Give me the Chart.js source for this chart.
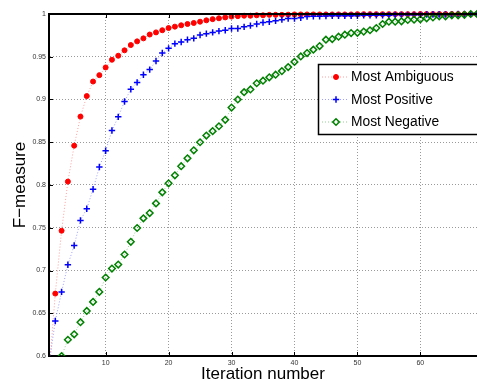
<!DOCTYPE html>
<html>
<head>
<meta charset="utf-8">
<script src="https://cdn.jsdelivr.net/npm/chart.js@4/dist/chart.umd.min.js"></script>
<style>
html,body{margin:0;padding:0;background:#fff;}
#wrap{width:477px;height:381px;position:relative;}
</style>
</head>
<body>
<div id="wrap"><canvas id="c" width="477" height="381"></canvas></div>
<script>
const iterations = [];
for (let i = 1; i <= 69; i++) iterations.push(i);

const seriesNames = ["Most Ambiguous", "Most Positive", "Most Negative"];

const mostAmbiguous = [
  0.58, 0.673, 0.7465, 0.804, 0.846, 0.880, 0.904, 0.921, 0.9285, 0.9375,
  0.9465, 0.9512, 0.9575, 0.9637, 0.968, 0.9715, 0.976, 0.9785, 0.981, 0.9836,
  0.9852, 0.9868, 0.9883, 0.9895, 0.991, 0.9926, 0.994, 0.995, 0.996, 0.997,
  0.9975, 0.998, 0.998, 0.9985, 0.9985, 0.999, 0.999, 0.999, 0.9992, 0.9995,
  0.9995, 0.9995, 0.9995, 0.9995, 0.9995, 0.9995, 0.9995, 0.9995, 0.9995, 0.9998,
  0.9998, 0.9998, 0.9998, 0.9998, 0.9998, 0.9998, 0.9998, 0.9998, 0.9998, 1.0,
  1.0, 1.0, 1.0, 1.0, 1.0, 1.0, 1.0, 1.0, 1.0
];

const mostPositive = [
  0.59, 0.641, 0.675, 0.7067, 0.7293, 0.7586, 0.7723, 0.795, 0.821, 0.840,
  0.8637, 0.8797, 0.8977, 0.912, 0.920, 0.929, 0.935, 0.945, 0.9543, 0.9598,
  0.9653, 0.9672, 0.970, 0.9715, 0.9754, 0.977, 0.9785, 0.980, 0.981, 0.983,
  0.983, 0.985, 0.9864, 0.9883, 0.990, 0.991, 0.992, 0.9934, 0.9946, 0.9946,
  0.9957, 0.997, 0.9973, 0.9973, 0.9977, 0.998, 0.998, 0.998, 0.998, 0.998,
  0.9985, 0.9985, 0.9985, 0.9985, 0.9985, 0.999, 0.999, 0.999, 0.999, 0.999,
  0.9995, 0.9995, 0.9995, 0.9995, 0.9995, 1.0, 1.0, 1.0, 1.0
];

const mostNegative = [
  0.55, 0.575, 0.600, 0.619, 0.6254, 0.6395, 0.6527, 0.6633, 0.675, 0.6918,
  0.7023, 0.707, 0.7187, 0.7336, 0.7497, 0.761, 0.7672, 0.7785, 0.7914, 0.802,
  0.8113, 0.822, 0.8312, 0.8406, 0.850, 0.8578, 0.863, 0.8687, 0.8762, 0.8906,
  0.900, 0.9086, 0.9118, 0.919, 0.922, 0.926, 0.929, 0.9332, 0.9379, 0.944,
  0.9504, 0.9543, 0.9583, 0.9625, 0.970, 0.9707, 0.9735, 0.9758, 0.9777, 0.978,
  0.9794, 0.981, 0.9836, 0.9883, 0.991, 0.991, 0.9914, 0.993, 0.9934, 0.9938,
  0.995, 0.996, 0.9973, 0.9973, 0.9985, 0.9985, 0.999, 1.0, 1.0
];

const xTickValues = [10, 20, 30, 40, 50, 60];
const yTickValues = [0.6, 0.65, 0.7, 0.75, 0.8, 0.85, 0.9, 0.95, 1];

const FONT = "'Liberation Sans', Arial, Helvetica, sans-serif";

function pts(vals) { return iterations.map((x, i) => ({x: x, y: vals[i]})); }

const styles = [
  {line: 'rgba(255,80,80,0.55)', point: 'circle', radius: 2.5, bg: '#ff0000', border: '#ff0000', bw: 1, order: 2},
  {line: 'rgba(80,80,255,0.55)', point: 'cross', radius: 3.2, bg: '#0000ff', border: '#0000ff', bw: 1.5, order: 1},
  {line: 'rgba(60,170,60,0.55)', point: 'rectRot', radius: 3.3, bg: 'rgba(0,0,0,0)', border: '#008000', bw: 1.5, order: 0}
];
const seriesValues = [mostAmbiguous, mostPositive, mostNegative];

const datasets = seriesNames.map((name, k) => ({
  label: name,
  data: pts(seriesValues[k]),
  borderColor: styles[k].line,
  borderWidth: 1,
  borderDash: [1, 2],
  pointStyle: styles[k].point,
  pointRadius: styles[k].radius,
  pointBackgroundColor: styles[k].bg,
  pointBorderColor: styles[k].border,
  pointBorderWidth: styles[k].bw,
  pointHoverRadius: styles[k].radius,
  tension: 0,
  order: styles[k].order,
  clip: {left: 6, top: 6, right: 6, bottom: 0}
}));

const framePlugin = {
  id: 'frame',
  afterDraw(chart) {
    const {ctx, chartArea: a, scales} = chart;
    ctx.save();
    // top border
    ctx.strokeStyle = '#000';
    ctx.lineWidth = 2;
    ctx.beginPath();
    ctx.moveTo(a.left - 1, a.top);
    ctx.lineTo(a.right + 1, a.top);
    ctx.stroke();
    // inward tick marks
    ctx.lineWidth = 1;
    xTickValues.forEach(v => {
      const x = Math.round(scales.x.getPixelForValue(v)) + 0.5;
      ctx.beginPath();
      ctx.moveTo(x, a.bottom); ctx.lineTo(x, a.bottom - 4);
      ctx.moveTo(x, a.top); ctx.lineTo(x, a.top + 4);
      ctx.stroke();
    });
    yTickValues.forEach(v => {
      const y = Math.round(scales.y.getPixelForValue(v)) + 0.5;
      ctx.beginPath();
      ctx.moveTo(a.left, y); ctx.lineTo(a.left + 4, y);
      ctx.stroke();
    });
    // legend
    const bx = 318.5, by = 64.5, bw = 170, bh = 70;
    ctx.fillStyle = '#fff';
    ctx.fillRect(bx, by, bw, bh);
    ctx.strokeStyle = '#000';
    ctx.lineWidth = 1.5;
    ctx.strokeRect(bx, by, bw, bh);
    const rows = [77, 99.5, 122];
    chart.data.datasets.forEach((ds, k) => {
      const y = rows[k];
      ctx.save();
      ctx.strokeStyle = ds.borderColor;
      ctx.lineWidth = 1;
      ctx.setLineDash([1, 2]);
      ctx.beginPath();
      ctx.moveTo(322, y); ctx.lineTo(347, y);
      ctx.stroke();
      ctx.restore();
      ctx.save();
      ctx.fillStyle = ds.pointBackgroundColor;
      ctx.strokeStyle = ds.pointBorderColor;
      ctx.lineWidth = ds.pointBorderWidth;
      Chart.helpers.drawPoint(ctx, {pointStyle: ds.pointStyle, radius: ds.pointRadius, borderWidth: ds.pointBorderWidth, rotation: 0}, 336, y);
      ctx.restore();
      ctx.fillStyle = '#000';
      ctx.font = '13.8px ' + FONT;
      ctx.textBaseline = 'middle';
      ctx.textAlign = 'left';
      ctx.fillText(ds.label, 351, y + 0.5);
    });
    ctx.restore();
  }
};

new Chart(document.getElementById('c'), {
  type: 'line',
  data: {datasets},
  options: {
    responsive: false,
    animation: false,
    events: [],
    layout: {autoPadding: false, padding: {top: 14, right: 0, left: 0, bottom: 0}},
    plugins: {legend: {display: false}, tooltip: {enabled: false}},
    scales: {
      x: {
        type: 'linear',
        min: 1,
        max: 69,
        afterBuildTicks: s => { s.ticks = xTickValues.map(v => ({value: v})); },
        afterFit: s => { s.height = 25; },
        grid: {color: '#9a9a9a', lineWidth: 1, drawTicks: false},
        border: {display: true, color: '#000', width: 2, dash: [1, 2]},
        ticks: {font: {family: FONT, size: 7}, color: '#333', padding: 3, maxRotation: 0},
        title: {display: true, text: 'Iteration number', color: '#000', font: {family: FONT, size: 17, lineHeight: 1}, padding: {top: 0, bottom: -2}}
      },
      y: {
        type: 'linear',
        min: 0.6,
        max: 1,
        afterBuildTicks: s => { s.ticks = yTickValues.map(v => ({value: v})); },
        afterFit: s => { s.width = 49; },
        grid: {color: '#9a9a9a', lineWidth: 1, drawTicks: false},
        border: {display: true, color: '#000', width: 2, dash: [1, 2]},
        ticks: {font: {family: FONT, size: 7}, color: '#333', padding: 3,
          callback: v => String(Number(v.toFixed(2)))},
        title: {display: true, text: 'F\u2212measure', color: '#000', font: {family: FONT, size: 17, lineHeight: 1}, padding: {top: 12, bottom: 0}}
      }
    }
  },
  plugins: [framePlugin]
});
</script>
</body>
</html>
